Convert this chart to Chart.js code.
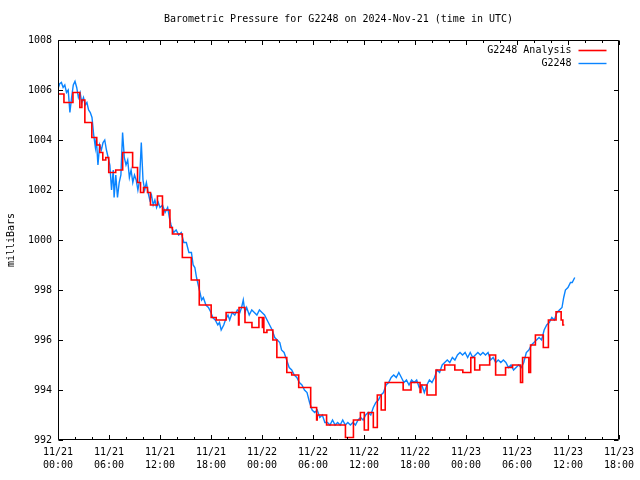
<!DOCTYPE html>
<html><head><meta charset="utf-8">
<script src="https://cdn.jsdelivr.net/npm/chart.js@4.4.1/dist/chart.umd.min.js"></script>
<style>html,body{margin:0;padding:0;background:#fff}#wrap{width:640px;height:480px}</style>
</head><body><div id="wrap"><canvas id="c" width="640" height="480"></canvas></div>
<script>
// ---- text ----
const chartTitle = 'Barometric Pressure for G2248 on 2024-Nov-21 (time in UTC)';
const yAxisTitle = 'milliBars';
const seriesNames = ['G2248 Analysis', 'G2248'];

// ---- axis ticks (x in hours since 11/21 00:00 UTC) ----
const xTickHours = [0, 6, 12, 18, 24, 30, 36, 42, 48, 54, 60, 66];
const xTickLabels = [['11/21','00:00'],['11/21','06:00'],['11/21','12:00'],['11/21','18:00'],
                     ['11/22','00:00'],['11/22','06:00'],['11/22','12:00'],['11/22','18:00'],
                     ['11/23','00:00'],['11/23','06:00'],['11/23','12:00'],['11/23','18:00']];
const yTickValues = [992, 994, 996, 998, 1000, 1002, 1004, 1006, 1008];

// ---- G2248 Analysis (step line) ----
const analysisHours = [0.0,0.70,1.76,2.57,2.81,3.16,3.98,4.56,4.92,5.27,5.62,5.97,6.79,7.61,8.78,9.36,9.71,10.06,10.53,10.88,11.70,12.29,12.40,13.17,13.46,14.63,15.68,16.62,18.02,18.61,19.78,21.24,21.30,22.0,22.82,23.64,24.05,24.10,24.22,24.58,25.28,25.75,26.92,27.5,28.32,29.73,30.43,30.50,31.6,33.82,34.76,35.58,36.04,36.51,37.1,37.57,38.03,38.5,40.61,41.54,42.6,42.7,43.42,44.47,45.5,46.69,47.63,48.57,49.03,49.62,50.79,51.49,52.66,53.48,54.42,54.66,55.4,55.6,56.17,57.1,57.7,58.6,59.2,59.4,59.57];
const analysisValues = [1005.84,1005.5,1005.9,1005.3,1005.6,1004.7,1004.1,1003.8,1003.5,1003.2,1003.3,1002.7,1002.8,1003.5,1002.9,1002.3,1001.9,1002.1,1001.9,1001.4,1001.76,1001.0,1001.2,1000.5,1000.24,999.3,998.4,997.4,996.9,996.8,997.1,996.6,997.3,996.7,996.5,996.9,996.5,996.9,996.3,996.4,996.0,995.3,994.7,994.6,994.1,993.3,992.8,993.0,992.6,992.1,992.8,993.1,992.4,993.1,992.5,993.8,993.2,994.3,994.0,994.3,993.9,994.2,993.8,994.8,995.0,994.8,994.7,995.3,994.8,995.0,995.4,994.6,994.9,995.0,994.3,995.3,994.7,995.8,996.2,995.7,996.8,997.13,996.8,996.6,996.6];

// ---- G2248 observations ----
const obsHours = [0.0,0.2,0.4,0.6,0.8,1.0,1.2,1.4,1.6,1.8,2.0,2.2,2.4,2.6,2.8,3.0,3.2,3.4,3.6,3.8,4.0,4.2,4.4,4.5,4.7,4.9,5.1,5.3,5.5,5.7,5.9,6.1,6.3,6.5,6.6,6.8,7.0,7.2,7.4,7.6,7.8,8.0,8.2,8.4,8.6,8.8,9.0,9.2,9.4,9.6,9.8,10.0,10.2,10.4,10.6,10.8,11.0,11.2,11.4,11.6,11.8,12.0,12.3,12.6,12.9,13.1,13.3,13.6,13.9,14.2,14.5,14.8,15.1,15.4,15.7,15.9,16.1,16.3,16.5,16.7,16.9,17.1,17.4,17.7,18.0,18.2,18.5,18.8,19.0,19.2,19.5,19.7,20.0,20.2,20.5,20.8,21.1,21.4,21.6,21.8,22.0,22.2,22.5,22.8,23.1,23.4,23.7,24.0,24.3,24.6,24.9,25.2,25.5,25.8,26.1,26.3,26.6,26.9,27.2,27.5,27.8,28.1,28.4,28.7,29.0,29.3,29.6,29.9,30.2,30.5,30.8,31.1,31.4,31.7,32.0,32.3,32.6,32.9,33.2,33.5,33.8,34.1,34.4,34.7,35.0,35.3,35.6,35.9,36.2,36.5,36.8,37.1,37.4,37.7,38.0,38.3,38.6,38.9,39.2,39.5,39.8,40.1,40.4,40.7,41.0,41.3,41.6,41.9,42.2,42.5,42.8,43.1,43.4,43.7,44.0,44.3,44.6,44.9,45.2,45.5,45.8,46.1,46.4,46.7,47.0,47.3,47.6,47.9,48.2,48.5,48.8,49.1,49.4,49.7,50.0,50.3,50.6,50.9,51.2,51.5,51.8,52.1,52.4,52.7,53.0,53.3,53.6,53.9,54.2,54.5,54.8,55.1,55.4,55.7,56.0,56.3,56.6,56.9,57.2,57.5,57.8,58.1,58.4,58.7,59.0,59.3,59.5,59.7,60.0,60.3,60.5,60.8];
const obsValues = [1006.05,1006.25,1006.3,1006.1,1006.2,1005.9,1006.0,1005.1,1005.7,1006.2,1006.35,1006.1,1005.7,1005.9,1005.5,1005.7,1005.4,1005.5,1005.2,1005.1,1004.9,1004.2,1003.7,1004.1,1003.0,1003.8,1003.6,1003.9,1004.0,1003.6,1003.3,1003.0,1002.0,1002.8,1001.7,1002.6,1001.7,1002.3,1002.6,1004.3,1003.3,1003.0,1003.2,1002.5,1002.8,1002.3,1002.6,1002.4,1002.0,1002.4,1003.9,1002.4,1002.0,1002.3,1001.9,1001.6,1001.8,1001.4,1001.6,1001.3,1001.5,1001.3,1001.4,1001.1,1001.3,1000.9,1000.6,1000.3,1000.4,1000.2,1000.3,999.9,999.9,999.5,999.5,999.0,998.9,998.5,998.2,997.9,997.6,997.7,997.4,997.3,997.1,996.9,996.8,996.6,996.7,996.4,996.6,996.8,997.0,996.8,997.1,997.0,997.2,997.1,997.3,997.6,997.1,997.3,997.0,997.2,997.1,997.0,997.2,997.1,997.0,996.8,996.6,996.4,996.1,996.0,995.9,995.6,995.5,995.2,994.9,994.8,994.6,994.5,994.3,994.2,994.0,993.9,993.5,993.2,993.1,993.2,992.9,993.0,992.7,992.7,992.6,992.8,992.6,992.7,992.6,992.8,992.6,992.7,992.6,992.7,992.6,992.8,992.9,992.8,993.0,993.1,993.0,993.3,993.5,993.6,993.8,993.9,994.2,994.3,994.5,994.6,994.5,994.7,994.5,994.3,994.4,994.2,994.4,994.3,994.4,994.1,994.2,993.9,994.2,994.4,994.3,994.5,994.8,994.7,995.0,995.1,995.2,995.1,995.3,995.2,995.4,995.5,995.4,995.5,995.3,995.5,995.3,995.4,995.5,995.4,995.5,995.4,995.5,995.2,995.3,995.1,995.2,995.1,995.2,995.1,994.9,995.0,994.8,994.9,995.0,994.9,995.1,995.5,995.6,995.8,995.9,996.0,996.1,996.0,996.4,996.6,996.7,996.9,996.8,997.1,997.2,997.3,997.7,998.0,998.1,998.3,998.3,998.5];

const seriesColors = ['#ff0000', '#0a84ff'];
const FONT = '"DejaVu Sans Mono", "Liberation Mono", monospace';

const toPts = (xs, ys) => xs.map((x, i) => ({x: x, y: ys[i]}));

const framePlugin = {
  id: 'gnuplotFrame',
  afterDraw(chart) {
    const ctx = chart.ctx, a = chart.chartArea;
    const xs = chart.scales.x, ys = chart.scales.y;
    const L = Math.round(a.left) + 0.5, R = Math.round(a.right) - 0.5;
    const T = Math.round(a.top) + 0.5, B = Math.round(a.bottom) - 0.5;
    ctx.save();
    ctx.strokeStyle = '#000'; ctx.lineWidth = 1;
    ctx.beginPath(); ctx.rect(L, T, R - L, B - T); ctx.stroke();
    ctx.beginPath();
    for (let h = xTickHours[0]; h <= xTickHours[xTickHours.length - 1]; h += 2) {
      const px = Math.round(xs.getPixelForValue(h)) + 0.5;
      const len = (h % 6 === 0) ? 4.5 : 2.5;
      ctx.moveTo(px, B); ctx.lineTo(px, B - len);
      ctx.moveTo(px, T); ctx.lineTo(px, T + len);
    }
    yTickValues.forEach(v => {
      const py = Math.round(ys.getPixelForValue(v)) + 0.5;
      ctx.moveTo(L, py); ctx.lineTo(L + 4.5, py);
      ctx.moveTo(R, py); ctx.lineTo(R - 4.5, py);
    });
    ctx.stroke();
    // title
    ctx.fillStyle = '#000';
    ctx.font = '10px ' + FONT;
    ctx.textAlign = 'center'; ctx.textBaseline = 'middle';
    ctx.fillText(chartTitle, (a.left + a.right) / 2, 19);
    // legend
    ctx.textAlign = 'right';
    chart.data.datasets.forEach((ds, i) => {
      const y = 50 + i * 13;
      ctx.fillStyle = '#000';
      ctx.fillText(ds.label, R - 47, y);
      ctx.strokeStyle = ds.borderColor; ctx.lineWidth = ds.borderWidth;
      ctx.beginPath(); ctx.moveTo(R - 40, Math.round(y) + 0.5); ctx.lineTo(R - 12, Math.round(y) + 0.5); ctx.stroke();
    });
    ctx.restore();
  }
};

new Chart(document.getElementById('c'), {
  type: 'line',
  data: {
    datasets: [
      { label: seriesNames[0], data: toPts(analysisHours, analysisValues), borderColor: seriesColors[0],
        borderWidth: 1.6, pointRadius: 0, stepped: true, fill: false },
      { label: seriesNames[1], data: toPts(obsHours, obsValues), borderColor: seriesColors[1],
        borderWidth: 1.4, pointRadius: 0, tension: 0, fill: false }
    ]
  },
  options: {
    responsive: false, animation: false, devicePixelRatio: 1,
    layout: { padding: { top: 40, right: 18, left: 0, bottom: 0 } },
    plugins: { legend: { display: false }, title: { display: false }, tooltip: { enabled: false } },
    scales: {
      x: {
        type: 'linear', min: 0, max: 66,
        grid: { display: false, drawTicks: false }, border: { display: false },
        afterBuildTicks: s => { s.ticks = xTickHours.map(v => ({ value: v })); },
        ticks: { autoSkip: false, maxRotation: 0, padding: 6, color: '#000',
          font: { family: FONT, size: 10, lineHeight: 1.3 },
          callback: v => xTickLabels[xTickHours.indexOf(v)] },
        afterFit: s => { s.height = 40; }
      },
      y: {
        min: 992, max: 1008,
        grid: { display: false, drawTicks: false }, border: { display: false },
        afterBuildTicks: s => { s.ticks = yTickValues.map(v => ({ value: v })); },
        ticks: { padding: 6, color: '#000', font: { family: FONT, size: 10 }, callback: v => String(v) },
        title: { display: true, text: yAxisTitle, color: '#000', font: { family: FONT, size: 10 }, padding: { top: 5, bottom: 0 } },
        afterFit: s => { s.width = 58; }
      }
    }
  },
  plugins: [framePlugin]
});
</script></body></html>
